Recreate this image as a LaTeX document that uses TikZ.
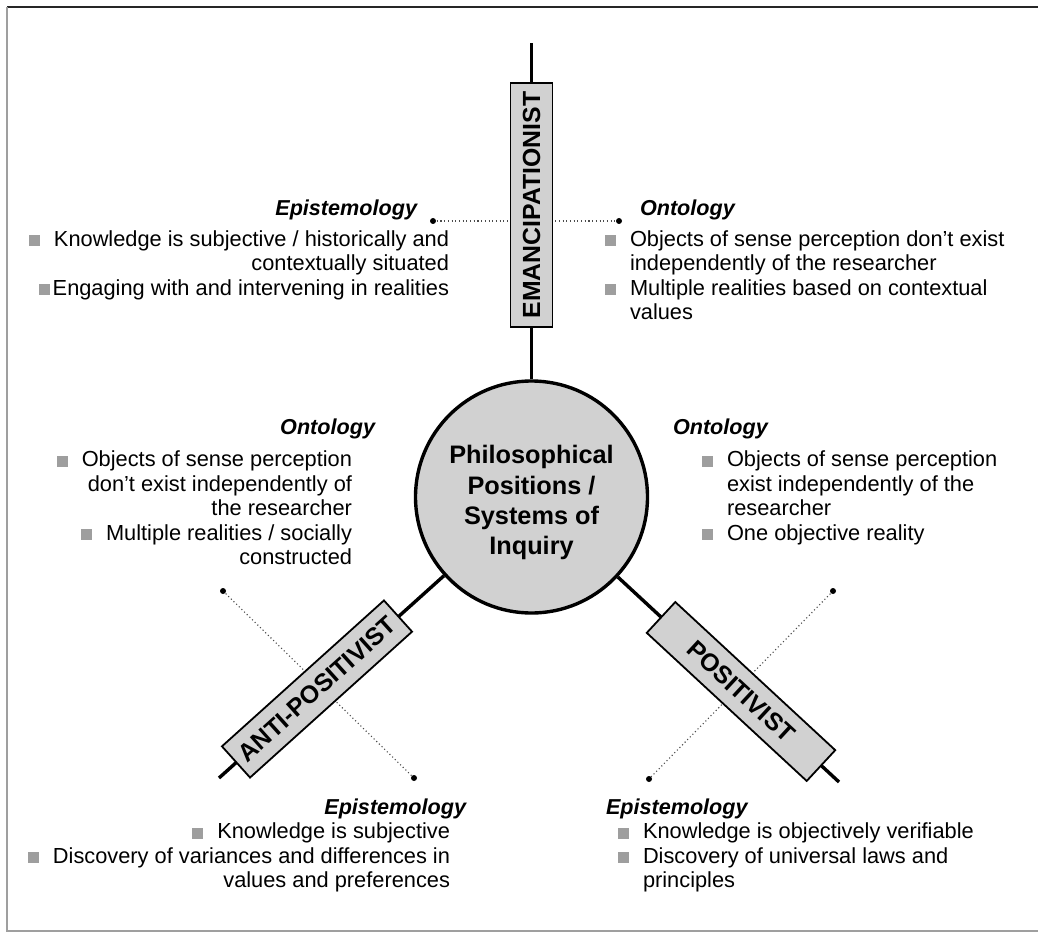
\documentclass[tikz,border=0pt]{standalone}
\usepackage{fontspec}
\setmainfont{Liberation Sans}
\definecolor{boxgray}{gray}{0.82}
\definecolor{bulgray}{gray}{0.62}
\newcommand{\bul}{\textcolor{bulgray}{\rule{11pt}{11pt}}\hspace{14pt}}
\newcommand{\bulnarrow}{\textcolor{bulgray}{\rule{11pt}{11pt}}\hspace{3pt}}
\tikzset{
  body/.style={font=\fontsize{21.8}{24.5}\selectfont, inner sep=0pt, outer sep=0pt},
  head/.style={font=\fontsize{21.6}{24.5}\selectfont\bfseries\itshape, inner sep=0pt, outer sep=0pt},
  axis/.style={line width=3.4pt},
  dotline/.style={line width=1.1pt, dash pattern=on 1.1pt off 2.6pt, black!70},
  posbox/.style={draw, line width=1.8pt, fill=boxgray, minimum height=42pt, inner sep=0pt,
    font=\fontsize{24.8}{24.8}\selectfont\bfseries},
  hub/.style={circle, draw, line width=3.4pt, fill=boxgray, minimum size=232pt, inner sep=0pt,
    align=center, font=\fontsize{25.3}{30.4}\selectfont\bfseries},
}
\begin{document}
\begin{tikzpicture}[x=1pt,y=-1pt]
\useasboundingbox (0,0) rectangle (1038,933);
\fill[white] (0,0) rectangle (1038,933);
\draw[black!85, line width=1.6pt] (7,7) -- (1038,7);
\draw[gray!75, line width=1.6pt] (7,7) -- (7,931) -- (1038,931);

% coordinates
\coordinate (etop) at (531.5,43);
\coordinate (aend) at (219,778);
\coordinate (pend) at (839,782);
\coordinate (eL) at (433,221);
\coordinate (eR) at (619,221);
\coordinate (aU) at (223,591);
\coordinate (aD) at (414,778);
\coordinate (pU) at (833,591);
\coordinate (pD) at (649,779);

% hub
\node[hub] (hub) at (531.5,497) {\rule{0pt}{30pt}Philosophical\\Positions /\\Systems of\\Inquiry};

% dotted guide lines
\draw[dotline] (eL) -- (eR);
\draw[dotline] (aU) -- (aD);
\draw[dotline] (pU) -- (pD);
\foreach \p in {eL,eR,aU,aD,pU,pD} \fill (\p) circle (3pt);

% axes
\draw[axis] (hub) -- (etop);
\draw[axis] (hub) -- (aend);
\draw[axis] (hub) -- (pend);

% position boxes
\node[posbox, rotate=90, minimum width=244pt] (emb) at (531.5,205) {EMANCIPATIONIST};
\node[posbox, rotate=42, minimum width=218pt] (apb) at (317,689) {ANTI-POSITIVIST};
\node[posbox, rotate=-42.8, minimum width=218pt] (pob) at (741,691.5) {POSITIVIST};

% headings
\node[head, anchor=base east] (h1) at (417,216) {Epistemology};
\node[head, anchor=base west] (h2) at (640,216) {Ontology};
\node[head, anchor=base east] (h3) at (375,434) {Ontology};
\node[head, anchor=base west] (h4) at (673,434) {Ontology};
\node[head, anchor=base east] (h5) at (466,814) {Epistemology};
\node[head, anchor=base west] (h6) at (606,814) {Epistemology};

% text blocks
\node[body, align=right, anchor=north east] (t1) at (449,228.85)
  {\strut\bul Knowledge is subjective / historically and\\
   contextually situated\\
   \bulnarrow Engaging with and intervening in realities};
\node[body, align=left, anchor=north west] (t2) at (605,228.85)
  {\strut\bul Objects of sense perception don’t exist\\
   \hspace*{25pt}independently of the researcher\\
   \bul Multiple realities based on contextual\\
   \hspace*{25pt}values};
\node[body, align=right, anchor=north east] (t3) at (352,449.35)
  {\strut\bul Objects of sense perception\\
   don’t exist independently of\\
   the researcher\\
   \bul Multiple realities / socially\\
   constructed};
\node[body, align=left, anchor=north west] (t4) at (702,449.35)
  {\strut\bul Objects of sense perception\\
   \hspace*{25pt}exist independently of the\\
   \hspace*{25pt}researcher\\
   \bul One objective reality};
\node[body, align=right, anchor=north east] (t5) at (450,821.35)
  {\strut\bul Knowledge is subjective\\
   \bul Discovery of variances and differences in\\
   values and preferences};
\node[body, align=left, anchor=north west] (t6) at (618,821.35)
  {\strut\bul Knowledge is objectively verifiable\\
   \bul Discovery of universal laws and\\
   \hspace*{25pt}principles};
\end{tikzpicture}
\end{document}
